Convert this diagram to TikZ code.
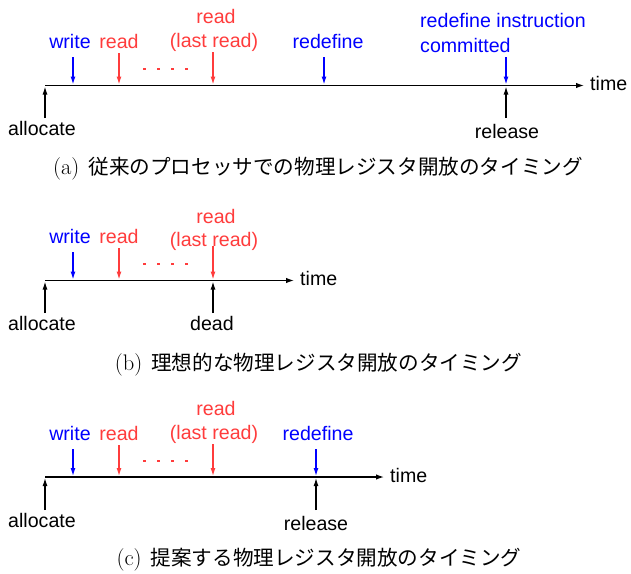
\documentclass[tikz,border=0pt]{standalone}
\usepackage{fontspec}
\newfontfamily\helv{Liberation Sans}
\newfontfamily\jp{Noto Sans CJK JP}
\usetikzlibrary{arrows.meta}
\definecolor{evblue}{RGB}{0,0,255}
\definecolor{evred}{RGB}{255,60,60}
\newcommand\jpcap[1]{\hspace{9pt}{\jp\fontsize{20.6}{24}\selectfont #1}}
\tikzset{
  lbl/.style={font=\helv\fontsize{19.6}{22}\selectfont, inner sep=0pt, anchor=base},
  captext/.style={font=\fontsize{22.5}{26}\selectfont, inner sep=0pt},
  axis/.style={line width=1.3pt, -{Latex[length=8pt,width=5.5pt]}},
  evt/.style={line width=1.2pt, -{Latex[length=8pt,width=5pt]}},
  dots/.style={evred, line width=2pt, dash pattern=on 3pt off 11pt},
}
\begin{document}
\begin{tikzpicture}[x=1pt,y=-1pt]
\useasboundingbox (0,0) rectangle (631,573);

% ---------- (a) conventional processor ----------
\coordinate (a0) at (45,85.5);
\coordinate (aEnd) at (584,85.5);
\draw[axis] (a0) -- (aEnd);
\node[lbl, anchor=base west] (aTime) at (590,90) {time};
% events above the axis
\node[lbl, evblue] (aW) at (70,48) {write};
\node[lbl, evred] (aR) at (119,48) {read};
\node[lbl, evred] (aLR1) at (216,23) {read};
\node[lbl, evred] (aLR2) at (214,47) {(last read)};
\node[lbl, evblue] (aRd) at (328,48) {redefine};
\node[lbl, evblue, anchor=base west] (aC1) at (420,27) {redefine instruction};
\node[lbl, evblue, anchor=base west] (aC2) at (420,52) {committed};
\coordinate (aWt) at (73,57);   \coordinate (aWb) at (73,84.5);
\coordinate (aRt) at (119,53);  \coordinate (aRb) at (119,84.5);
\coordinate (aLt) at (213,52);  \coordinate (aLb) at (213,84.5);
\coordinate (aDt) at (324,57);  \coordinate (aDb) at (324,84.5);
\coordinate (aCt) at (506,57);  \coordinate (aCb) at (506,84.5);
\draw[evt, evblue] (aWt) -- (aWb);
\draw[evt, evred] (aRt) -- (aRb);
\draw[evt, evred] (aLt) -- (aLb);
\draw[evt, evblue] (aDt) -- (aDb);
\draw[evt, evblue] (aCt) -- (aCb);
\coordinate (aDs) at (143,69); \coordinate (aDe) at (190,69);
\draw[dots] (aDs) -- (aDe);
% events below the axis
\node[lbl] (aAl) at (42,135) {allocate};
\node[lbl] (aRel) at (507,138) {release};
\coordinate (aAb) at (45,118);  \coordinate (aAt) at (45,86.5);
\coordinate (aSb) at (506,118); \coordinate (aSt) at (506,86.5);
\draw[evt] (aAb) -- (aAt);
\draw[evt] (aSb) -- (aSt);
\node[captext] (capA) at (318,168.5) {(a)\jpcap{従来のプロセッサでの物理レジスタ開放のタイミング}};

% ---------- (b) ideal ----------
\coordinate (b0) at (45,280.5);
\coordinate (bEnd) at (294,280.5);
\draw[axis] (b0) -- (bEnd);
\node[lbl, anchor=base west] (bTime) at (300,285) {time};
\node[lbl, evblue] (bW) at (70,243) {write};
\node[lbl, evred] (bR) at (119,243) {read};
\node[lbl, evred] (bLR1) at (216,223) {read};
\node[lbl, evred] (bLR2) at (214,246) {(last read)};
\coordinate (bWt) at (73,252);  \coordinate (bWb) at (73,279.5);
\coordinate (bRt) at (119,248); \coordinate (bRb) at (119,279.5);
\coordinate (bLt) at (213,246); \coordinate (bLb) at (213,279.5);
\draw[evt, evblue] (bWt) -- (bWb);
\draw[evt, evred] (bRt) -- (bRb);
\draw[evt, evred] (bLt) -- (bLb);
\coordinate (bDs) at (143,264); \coordinate (bDe) at (190,264);
\draw[dots] (bDs) -- (bDe);
\node[lbl] (bAl) at (42,330) {allocate};
\node[lbl] (bDead) at (212,330) {dead};
\coordinate (bAb) at (45,313);  \coordinate (bAt) at (45,281.5);
\coordinate (bXb) at (213,313); \coordinate (bXt) at (213,281.5);
\draw[evt] (bAb) -- (bAt);
\draw[evt] (bXb) -- (bXt);
\node[captext] (capB) at (318.5,365) {(b)\jpcap{理想的な物理レジスタ開放のタイミング}};

% ---------- (c) proposed ----------
\coordinate (c0) at (45,477);
\coordinate (cEnd) at (384,477);
\draw[axis] (c0) -- (cEnd);
\node[lbl, anchor=base west] (cTime) at (390,482) {time};
\node[lbl, evblue] (cW) at (70,440) {write};
\node[lbl, evred] (cR) at (119,440) {read};
\node[lbl, evred] (cLR1) at (216,415) {read};
\node[lbl, evred] (cLR2) at (214,439) {(last read)};
\node[lbl, evblue] (cRd) at (318,440) {redefine};
\coordinate (cWt) at (73,449);  \coordinate (cWb) at (73,476);
\coordinate (cRt) at (119,445); \coordinate (cRb) at (119,476);
\coordinate (cLt) at (213,444); \coordinate (cLb) at (213,476);
\coordinate (cDt) at (316,449); \coordinate (cDb) at (316,476);
\draw[evt, evblue] (cWt) -- (cWb);
\draw[evt, evred] (cRt) -- (cRb);
\draw[evt, evred] (cLt) -- (cLb);
\draw[evt, evblue] (cDt) -- (cDb);
\coordinate (cDs) at (143,461); \coordinate (cDe) at (190,461);
\draw[dots] (cDs) -- (cDe);
\node[lbl] (cAl) at (42,527) {allocate};
\node[lbl] (cRel) at (316,530) {release};
\coordinate (cAb) at (45,510);  \coordinate (cAt) at (45,478);
\coordinate (cSb) at (316,510); \coordinate (cSt) at (316,478);
\draw[evt] (cAb) -- (cAt);
\draw[evt] (cSb) -- (cSt);
\node[captext] (capC) at (319,560) {(c)\jpcap{提案する物理レジスタ開放のタイミング}};
\end{tikzpicture}
\end{document}
